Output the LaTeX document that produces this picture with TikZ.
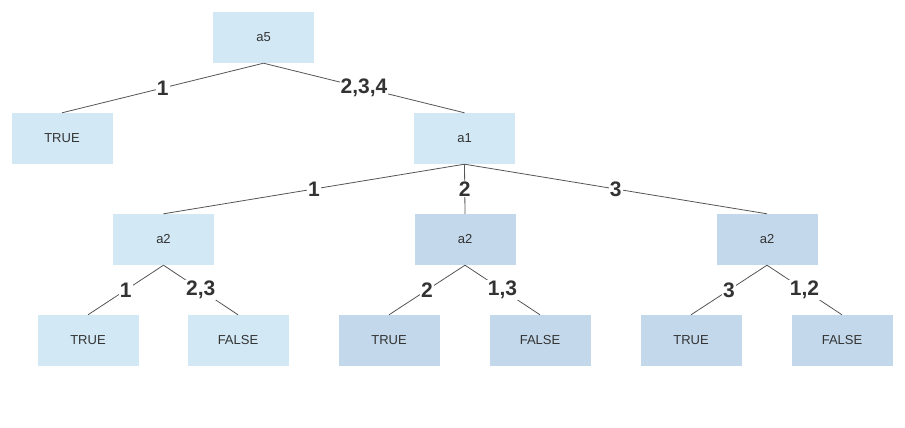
\documentclass[tikz,border=0pt]{standalone}
\usepackage{fontspec}
\setmainfont{Liberation Sans}
\definecolor{lightb}{HTML}{D2E8F5}
\definecolor{darkb}{HTML}{C3D8EA}
\definecolor{edgec}{HTML}{555555}
\definecolor{txt}{HTML}{333333}
\begin{document}
\begin{tikzpicture}[x=1pt,y=-1pt,
  box/.style={minimum width=101pt,minimum height=51pt,inner sep=0pt,font=\fontsize{13}{15}\selectfont,text=txt},
  lb/.style={box,fill=lightb},
  db/.style={box,fill=darkb},
  edge/.style={draw=edgec,line width=0.8pt},
  elab/.style={fill=white,inner sep=1pt,font=\fontsize{21}{23}\selectfont\bfseries,text=txt}]
\useasboundingbox (0,0) rectangle (905,428);
\node[lb] (a5) at (263.5,37.5) {a5};
\node[lb] (t0) at (62,138.5) {TRUE};
\node[lb] (a1) at (464.5,138.5) {a1};
\node[lb] (a2l) at (163.5,239.5) {a2};
\node[db] (a2m) at (465,239.5) {a2};
\node[db] (a2r) at (767,239.5) {a2};
\node[lb] (t1) at (88,340.5) {TRUE};
\node[lb] (f1) at (238,340.5) {FALSE};
\node[db] (t2) at (389,340.5) {TRUE};
\node[db] (f2) at (540,340.5) {FALSE};
\node[db] (t3) at (691,340.5) {TRUE};
\node[db] (f3) at (842,340.5) {FALSE};
\draw[edge] (a5.south) -- node[elab]{1} (t0.north);
\draw[edge] (a5.south) -- node[elab]{2,3,4} (a1.north);
\draw[edge] (a1.south) -- node[elab]{1} (a2l.north);
\draw[edge] (a1.south) -- node[elab]{2} (a2m.north);
\draw[edge] (a1.south) -- node[elab]{3} (a2r.north);
\draw[edge] (a2l.south) -- node[elab]{1} (t1.north);
\draw[edge] (a2l.south) -- node[elab]{2,3} (f1.north);
\draw[edge] (a2m.south) -- node[elab]{2} (t2.north);
\draw[edge] (a2m.south) -- node[elab]{1,3} (f2.north);
\draw[edge] (a2r.south) -- node[elab]{3} (t3.north);
\draw[edge] (a2r.south) -- node[elab]{1,2} (f3.north);
\end{tikzpicture}
\end{document}
